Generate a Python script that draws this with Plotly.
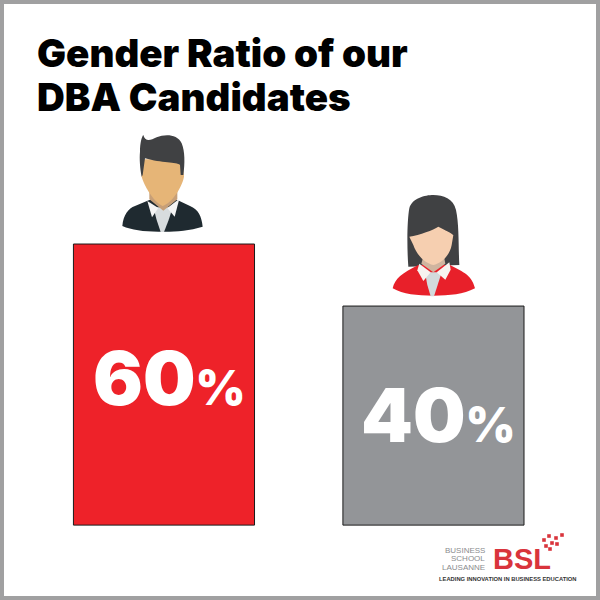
import re
import plotly.graph_objects as go

categories = ["Male", "Female"]
values = [60, 40]
bar_colors = ["#EE2229", "#939598"]
title_lines = ["Gender Ratio of our", "DBA Candidates"]
logo_lines = ["BUSINESS", "SCHOOL", "LAUSANNE"]
logo_mark = "BSL"
logo_tagline = "LEADING INNOVATION IN BUSINESS EDUCATION"

SIZE = 600
AXIS_BASE = -30.65
Y_RANGE = [-54.8, 138.7]
X_RANGE = [-0.6085, 1.618]
BAR_WIDTH = 0.672
FONT = "Inter"
LABEL_SHIFT_Y = [7, 1]


def px(x):
    return x / SIZE


def py(y):
    return 1 - y / SIZE


def path(d, ox, oy, k=1 / 3):
    """Convert an SVG path drawn in a zoomed pixel frame to paper coordinates."""
    tok = re.findall(r"[MLCZ]|-?\d+\.?\d*", d)
    out, nums = [], []
    for t in tok:
        if t in "MLCZ":
            out.append(t)
        else:
            nums.append(float(t))
            if len(nums) == 2:
                out.append(f"{px(ox + nums[0] * k):.5f},{py(oy + nums[1] * k):.5f}")
                nums = []
    return " ".join(out)


def icon(parts, ox, oy):
    return [
        dict(type="path", xref="paper", yref="paper", path=path(d, ox, oy),
             fillcolor=c, line=dict(width=0), layer="above")
        for d, c in parts
    ]


man = [
    ("M97,318 C100,285 115,265 135,258 L178,240 L262,240 L300,258 C325,268 335,290 338,320 C300,332 260,335 225,335 L205,335 C160,335 125,330 97,318 Z", "#1F2A30"),
    ("M190,262 L248,262 L236,300 L222,336 L212,336 L200,300 Z", "#D8DCDE"),
    ("M172,243 L205,264 L186,292 Z", "#F4F4F4"),
    ("M268,236 L232,264 L254,290 Z", "#F4F4F4"),
    ("M178,212 L262,212 L262,238 L220,272 L178,238 Z", "#C79F77"),
    ("M158,118 L278,118 L282,170 C275,205 245,248 218,258 C195,248 165,205 155,170 Z", "#E6B577"),
    ("M150,95 C150,70 155,50 160,45 C165,65 180,62 200,52 C225,42 262,42 275,70 C285,95 285,130 280,165 L272,165 L270,135 C260,125 215,130 165,115 L158,165 L155,170 C150,145 148,115 150,95 Z", "#404143"),
]
woman = [
    ("M115,245 C110,180 112,100 118,70 C125,40 165,30 190,30 C220,30 250,40 258,75 C268,120 265,190 268,240 Z", "#404143"),
    ("M68,310 C75,280 95,265 145,240 L240,240 C270,258 305,265 315,310 C280,328 240,332 190,332 C140,332 100,328 68,310 Z", "#E8202A"),
    ("M165,262 L215,262 L203,300 L192,334 L182,334 L172,300 Z", "#D3DADC"),
    ("M148,236 L182,262 L160,288 L142,256 Z", "#F7F3F0"),
    ("M238,232 L200,262 L226,284 L242,254 Z", "#F7F3F0"),
    ("M160,215 L222,215 L226,236 L190,262 L154,236 Z", "#D0B59F"),
    ("M118,155 C150,150 190,135 205,125 C225,135 245,145 250,150 L245,180 C240,210 215,235 190,240 C165,235 140,210 130,180 Z", "#F6CFB0"),
]

logo_dots = [(549, 536), (556, 538), (562, 535), (544, 540), (552, 543), (546, 546), (557, 544), (550, 549)]

shapes = icon(man, 90, 120) + icon(woman, 370, 185)
for dx, dy in logo_dots:
    shapes.append(dict(type="rect", xref="paper", yref="paper",
                       x0=px(dx - 1.8), x1=px(dx + 1.8), y0=py(dy + 1.8), y1=py(dy - 1.8),
                       fillcolor="#D9343C", line=dict(width=0)))
# outer frame
shapes.append(dict(type="rect", xref="paper", yref="paper", x0=px(2), x1=px(598),
                   y0=py(598), y1=py(2), fillcolor="rgba(0,0,0,0)",
                   line=dict(color="#A0A0A1", width=4)))

annotations = []
for line, ypx in zip(title_lines, [53, 97]):
    annotations.append(dict(text=line, xref="paper", yref="paper", x=px(35), y=py(ypx),
                            xanchor="left", yanchor="middle", showarrow=False,
                            font=dict(family=FONT, size=38.5, weight=900, color="#000000")))
for cat, v, sy in zip(categories, values, LABEL_SHIFT_Y):
    annotations.append(dict(
        text=f"{v}<span style='font-size:48px'>%</span>",
        x=cat, y=(v + AXIS_BASE) / 2, xshift=5.5, yshift=sy, xanchor="center", yanchor="middle",
        showarrow=False, font=dict(family=FONT, size=74, weight=900, color="#FFFFFF")))
for line, ypx, in zip(logo_lines, [550, 558.5, 567]):
    annotations.append(dict(text=line, xref="paper", yref="paper", x=px(486), y=py(ypx),
                            xanchor="right", yanchor="middle", showarrow=False, borderpad=0,
                            font=dict(family="Liberation Sans", size=8, color="#8A8C8E")))
annotations.append(dict(text=f"<b>{logo_mark}</b>", xref="paper", yref="paper", x=px(491), y=py(559),
                        xanchor="left", yanchor="middle", showarrow=False,
                        font=dict(family="Liberation Sans", size=29, color="#D9343C")))
annotations.append(dict(text=f"<b>{logo_tagline}</b>", xref="paper", yref="paper", x=px(437), y=py(579),
                        xanchor="left", yanchor="middle", showarrow=False,
                        font=dict(family="Liberation Sans", size=5.8, color="#333333")))

fig = go.Figure(go.Bar(
    x=categories,
    y=[v - AXIS_BASE for v in values],
    base=AXIS_BASE,
    width=BAR_WIDTH,
    marker=dict(color=bar_colors, line=dict(color="#1A1A1A", width=1)),
    hoverinfo="skip",
))
fig.update_layout(
    width=SIZE, height=SIZE,
    margin=dict(l=0, r=0, t=0, b=0),
    paper_bgcolor="#FFFFFF", plot_bgcolor="#FFFFFF",
    showlegend=False,
    xaxis=dict(range=X_RANGE, visible=False, type="category", categoryorder="array", categoryarray=categories),
    yaxis=dict(range=Y_RANGE, visible=False),
    shapes=shapes, annotations=annotations,
)
fig.write_html("out.html", config={"displayModeBar": False},
               post_script="document.body.style.margin='0';document.documentElement.style.overflow='hidden';")
